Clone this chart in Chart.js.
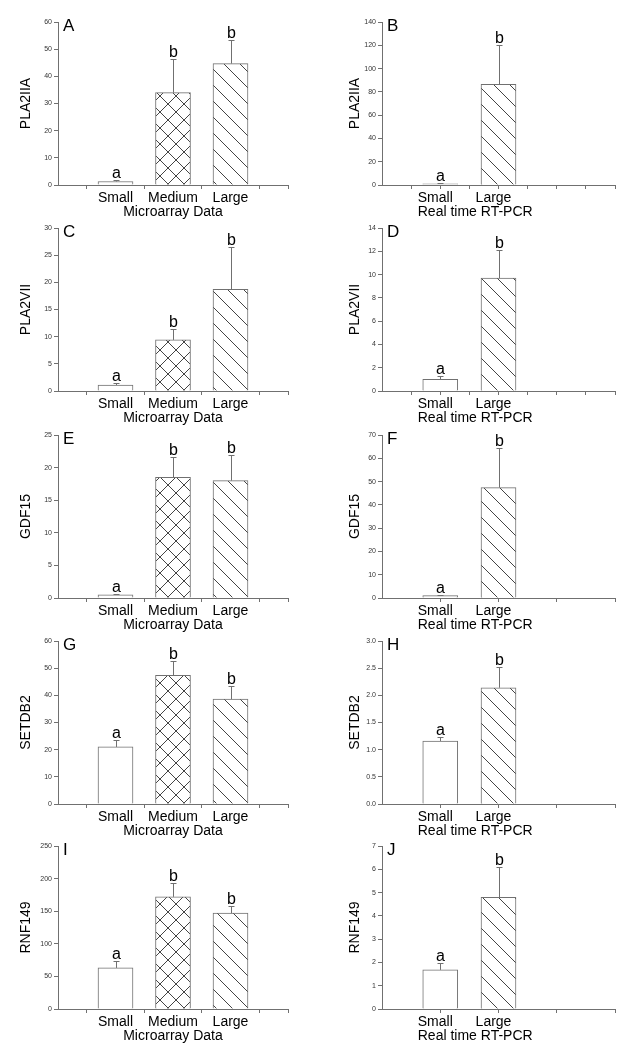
<!DOCTYPE html>
<html>
<head>
<meta charset="utf-8">
<script src="https://cdn.jsdelivr.net/npm/chart.js@4.4.0/dist/chart.umd.min.js"></script>
<style>
  html, body { margin: 0; padding: 0; background: #fff; }
  body { width: 626px; height: 1050px; position: relative; overflow: hidden; }
  canvas { position: absolute; }
</style>
</head>
<body>
<script>
const microGroups = ['Small', 'Medium', 'Large'];
const pcrGroups = ['Small', 'Large'];
const genes = ['PLA2IIA', 'PLA2VII', 'GDF15', 'SETDB2', 'RNF149'];
const panelLetters = ['A', 'B', 'C', 'D', 'E', 'F', 'G', 'H', 'I', 'J'];

// microarray: mean and upper error per gene (Small, Medium, Large)
const microMeans = [[1.3, 34.0, 44.7], [1.1, 9.4, 18.7], [0.5, 18.5, 18.0], [21.0, 47.4, 38.6], [63, 172, 147]];
const microErrors = [[0.4, 12.5, 8.5], [0.3, 2.1, 7.8], [0.15, 3.1, 4.0], [2.5, 5.2, 4.8], [11, 22, 11]];
const microLetters = [['a', 'b', 'b'], ['a', 'b', 'b'], ['a', 'b', 'b'], ['a', 'b', 'b'], ['a', 'b', 'b']];
const microYMax = [60, 30, 25, 60, 250];
const microYStep = [10, 5, 5, 10, 50];

// real time RT-PCR: mean and upper error per gene (Small, Large)
const pcrMeans = [[1.0, 86.5], [1.0, 9.7], [1.0, 47.4], [1.16, 2.14], [1.68, 4.8]];
const pcrErrors = [[0.5, 34.0], [0.25, 2.4], [0.3, 17.2], [0.07, 0.38], [0.29, 1.28]];
const pcrLetters = [['a', 'b'], ['a', 'b'], ['a', 'b'], ['a', 'b'], ['a', 'b']];
const pcrYMax = [140, 14, 70, 3, 7];
const pcrYStep = [20, 2, 10, 0.5, 1];

Chart.defaults.font.family = "Arial, 'Liberation Sans', sans-serif";

const axisGray = '#707070';

function makeHatch(kind) {
  const c = document.createElement('canvas');
  c.width = 16; c.height = 16;
  const g = c.getContext('2d');
  g.fillStyle = '#fff';
  g.fillRect(0, 0, 16, 16);
  g.strokeStyle = '#444';
  g.lineWidth = 1;
  g.beginPath();
  g.moveTo(-2, -2); g.lineTo(18, 18);
  g.moveTo(-2, 14); g.lineTo(2, 18);
  g.moveTo(14, -2); g.lineTo(18, 2);
  if (kind === 'cross') {
    g.moveTo(-2, 18); g.lineTo(18, -2);
    g.moveTo(-2, 2); g.lineTo(2, -2);
    g.moveTo(14, 18); g.lineTo(18, 14);
  }
  g.stroke();
  return g.createPattern(c, 'repeat');
}

const fills = { Small: '#ffffff', Medium: makeHatch('cross'), Large: makeHatch('diag') };

// error bars, significance letters, panel letter and x title
const panelDecor = {
  id: 'panelDecor',
  afterDatasetsDraw(chart, args, opts) {
    const { ctx, chartArea, scales: { x, y } } = chart;
    ctx.save();
    opts.means.forEach((m, i) => {
      const px = Math.round(x.getPixelForValue(i + 1)) + 0.5;
      const base = y.getPixelForValue(m);
      const top = Math.round(y.getPixelForValue(m + opts.errors[i])) + 0.5;
      ctx.strokeStyle = axisGray;
      ctx.lineWidth = 1;
      ctx.beginPath();
      ctx.moveTo(px, base);
      ctx.lineTo(px, top);
      ctx.moveTo(px - 3, top);
      ctx.lineTo(px + 3, top);
      ctx.stroke();
      ctx.fillStyle = '#000';
      ctx.font = "16px Arial, 'Liberation Sans', sans-serif";
      ctx.textAlign = 'center';
      ctx.textBaseline = 'alphabetic';
      ctx.fillText(opts.letters[i], px, top - 3);
    });
    ctx.fillStyle = '#000';
    ctx.font = "17px Arial, 'Liberation Sans', sans-serif";
    ctx.textAlign = 'left';
    ctx.fillText(opts.panel, chartArea.left + 5, chartArea.top + 9);
    ctx.font = "14px Arial, 'Liberation Sans', sans-serif";
    ctx.textAlign = 'center';
    ctx.fillText(opts.xTitle, x.getPixelForValue(opts.xTitleAt), chartArea.bottom + 31);
    ctx.restore();
  }
};

const rowTops = [0, 206, 413, 619, 824];

function addPanel(opts) {
  const cv = document.createElement('canvas');
  cv.width = 313;
  cv.height = 230;
  cv.style.left = opts.left + 'px';
  cv.style.top = opts.top + 'px';
  document.body.appendChild(cv);

  const groups = opts.groups;
  new Chart(cv.getContext('2d'), {
    type: 'bar',
    data: {
      datasets: [{
        data: opts.means.map((m, i) => ({ x: i + 1, y: m })),
        backgroundColor: groups.map(g => fills[g]),
        borderColor: axisGray,
        borderWidth: 1,
        barThickness: 35
      }]
    },
    options: {
      responsive: false,
      animation: false,
      events: [],
      layout: { padding: { left: 0, top: 22, right: opts.padRight, bottom: 0 } },
      plugins: {
        legend: { display: false },
        tooltip: { enabled: false },
        panelDecor: {
          means: opts.means,
          errors: opts.errors,
          letters: opts.letters,
          panel: opts.panel,
          xTitle: opts.xTitle,
          xTitleAt: opts.xTitleAt
        }
      },
      scales: {
        x: {
          type: 'linear',
          min: 0,
          max: 4,
          offset: false,
          afterFit: s => { s.height = 45; },
          afterBuildTicks: s => { s.ticks = opts.tickVals.map(v => ({ value: v })); },
          grid: {
            offset: false,
            drawOnChartArea: false,
            tickLength: 4,
            color: c => (c.tick && opts.marks.includes(c.tick.value)) ? axisGray : 'rgba(0,0,0,0)'
          },
          border: { color: axisGray },
          ticks: {
            autoSkip: false,
            maxRotation: 0,
            padding: 1,
            labelOffset: opts.labelOffset,
            color: '#000',
            font: { size: 14 },
            callback: v => (Number.isInteger(v) && groups[v - 1]) || ''
          }
        },
        y: {
          min: 0,
          max: opts.yMax,
          afterFit: s => { s.width = opts.axisWidth; },
          grid: { drawOnChartArea: false, tickLength: 4, color: axisGray },
          border: { color: axisGray },
          ticks: {
            stepSize: opts.yStep,
            padding: 2,
            color: '#333',
            font: { size: 7 },
            callback: v => opts.yStep % 1 ? v.toFixed(1) : v
          },
          title: {
            display: true,
            text: opts.gene,
            color: '#000',
            font: { size: 14 },
            padding: { top: opts.titlePad, bottom: 0 }
          }
        }
      }
    },
    plugins: [panelDecor]
  });
}

genes.forEach((gene, r) => {
  addPanel({
    left: 0, top: rowTops[r], gene: gene, panel: panelLetters[2 * r],
    groups: microGroups, means: microMeans[r], errors: microErrors[r], letters: microLetters[r],
    yMax: microYMax[r], yStep: microYStep[r],
    axisWidth: 58, padRight: 25, titlePad: 18, labelOffset: 0,
    tickVals: [0.5, 1, 1.5, 2, 2.5, 3, 3.5, 4], marks: [0.5, 1.5, 2.5, 3.5, 4],
    xTitle: 'Microarray Data', xTitleAt: 2
  });
  const halfTicks = r < 2;
  addPanel({
    left: 313, top: rowTops[r], gene: gene, panel: panelLetters[2 * r + 1],
    groups: pcrGroups, means: pcrMeans[r], errors: pcrErrors[r], letters: pcrLetters[r],
    yMax: pcrYMax[r], yStep: pcrYStep[r],
    axisWidth: 69, padRight: 11, titlePad: 34, labelOffset: -5,
    tickVals: halfTicks ? [0.5, 1, 1.5, 2, 2.5, 3, 3.5, 4] : [1, 2, 3, 4],
    marks: halfTicks ? [0.5, 1, 1.5, 2, 2.5, 3, 3.5, 4] : [1, 2, 3, 4],
    xTitle: 'Real time RT-PCR', xTitleAt: 1.6
  });
});
</script>
</body>
</html>
